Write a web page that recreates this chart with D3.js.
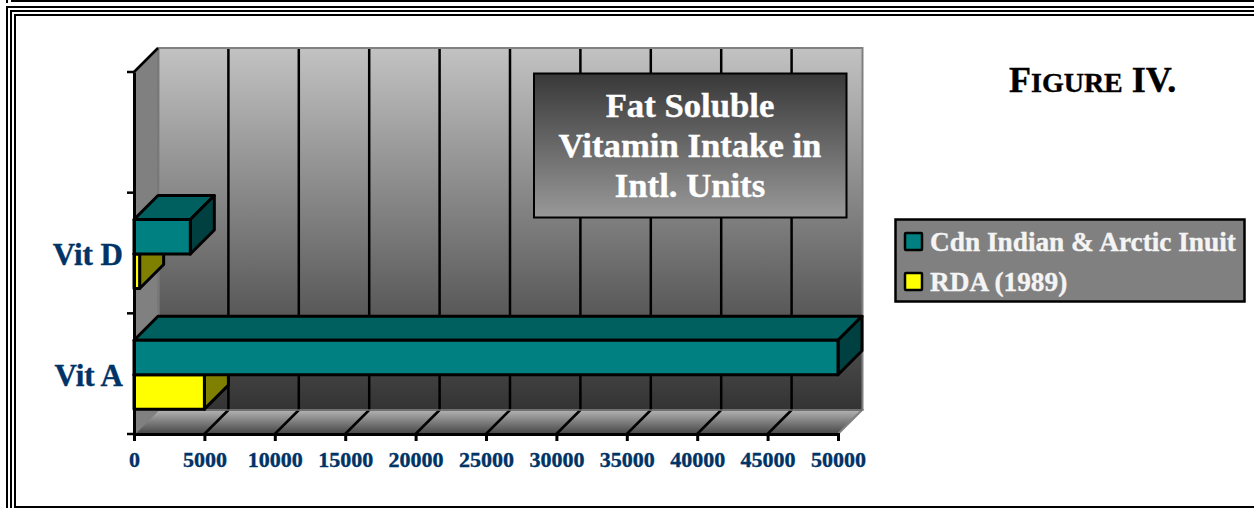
<!DOCTYPE html>
<html>
<head>
<meta charset="utf-8">
<script src="https://cdn.jsdelivr.net/npm/d3@7"></script>
<style>
  body { margin: 0; background: #fff; }
  svg { display: block; }
  text { font-family: "Liberation Serif", "Times New Roman", serif; font-weight: bold; stroke-width: 0.4px; }
</style>
</head>
<body>
<div id="chart"></div>
<script>
// values
var categories = ["Vit A", "Vit D", ""];
var seriesNames = ["Cdn Indian & Arctic Inuit", "RDA (1989)"];
var inuitValues = [50000, 4000, null];
var rdaValues = [5000, 400, null];
var xTicks = [0, 5000, 10000, 15000, 20000, 25000, 30000, 35000, 40000, 45000, 50000];
var titleLines = ["Fat Soluble", "Vitamin Intake in", "Intl. Units"];

var width = 1254, height = 508;
var navy = "#003366";

// front plane of the 3d box and how far the back wall is pushed
var left = 134, right = 838, bottom = 434, top_ = 72;
var depth = 24;

var svg = d3.select("#chart").append("svg")
    .attr("width", width)
    .attr("height", height);

var defs = svg.append("defs");

function addGradient(id, from, to) {
  var g = defs.append("linearGradient")
      .attr("id", id)
      .attr("x1", 0).attr("y1", 0)
      .attr("x2", 0).attr("y2", 1);
  g.append("stop").attr("offset", "0%").attr("stop-color", from);
  g.append("stop").attr("offset", "100%").attr("stop-color", to);
}
addGradient("wallGrad", "#c2c2c2", "#333333");
addGradient("floorGrad", "#b4b4b4", "#464646");
addGradient("titleGrad", "#383838", "#999999");

// page frame
var frame = svg.append("g").attr("fill", "none").attr("stroke", "#000").attr("stroke-width", 2);
frame.append("path").attr("d", "M11,1H" + width);
frame.append("path").attr("d", "M7,0V3");
[7, 11, 15].forEach(function(p) {
  frame.append("path").attr("d", "M" + p + "," + height + "V" + p + "H" + width);
});
frame.append("path").attr("d", "M14,507H" + width);

// scales
var x = d3.scaleLinear()
    .domain([0, 50000])
    .range([left, right]);

var y = d3.scaleBand()
    .domain(categories)
    .range([bottom, top_]);

var ySeries = d3.scaleBand()
    .domain(seriesNames)
    .range([0, y.bandwidth()])
    .paddingInner(0)
    .paddingOuter(0.75)
    .align(0.52);

function pts(list) {
  return list.map(function(p) { return p.join(","); }).join(" ");
}

// walls and floor
svg.append("rect")
    .attr("x", left + depth + 0.5)
    .attr("y", top_ - depth)
    .attr("width", right - left)
    .attr("height", bottom - top_)
    .attr("fill", "url(#wallGrad)")
    .attr("stroke", "#808080")
    .attr("stroke-width", 2);

svg.append("polygon")
    .attr("points", pts([[left, top_], [left + depth, top_ - depth], [left + depth, bottom - depth], [left, bottom]]))
    .attr("fill", "#808080")
    .attr("stroke", "#707070")
    .attr("stroke-width", 1);

svg.append("polygon")
    .attr("points", pts([[left, bottom], [right, bottom], [right + depth, bottom - depth], [left + depth, bottom - depth]]))
    .attr("fill", "url(#floorGrad)")
    .attr("stroke", "#808080")
    .attr("stroke-width", 2);

// gridlines on the wall and the floor
var gridTicks = xTicks.slice(1, -1);
svg.append("g").selectAll("line")
    .data(gridTicks)
    .enter().append("line")
    .attr("x1", function(d) { return x(d) + depth; })
    .attr("x2", function(d) { return x(d) + depth; })
    .attr("y1", top_ - depth + 1)
    .attr("y2", bottom - depth)
    .attr("stroke", "#000")
    .attr("stroke-width", 2.5);

svg.append("g").selectAll("line")
    .data(gridTicks)
    .enter().append("line")
    .attr("x1", function(d) { return x(d); })
    .attr("x2", function(d) { return x(d) + depth; })
    .attr("y1", bottom)
    .attr("y2", bottom - depth)
    .attr("stroke", "#000")
    .attr("stroke-width", 2.5);

// floor back edge, darker above the floor
svg.append("line")
    .attr("x1", left + depth).attr("x2", right + depth)
    .attr("y1", bottom - depth).attr("y2", bottom - depth)
    .attr("stroke", "#6a6a6a").attr("stroke-width", 1.5);

// 3d bars, lower series first so the teal one sits on top of it
var barSeries = [
  {name: seriesNames[1], values: rdaValues, front: "#ffff00", topFace: "#808000", side: "#808000"},
  {name: seriesNames[0], values: inuitValues, front: "#008080", topFace: "#006060", side: "#004040"}
];

barSeries.forEach(function(s) {
  var rows = categories.map(function(c, i) {
    return {cat: c, value: s.values[i]};
  }).filter(function(d) { return d.value != null; });

  var bar = svg.append("g")
      .attr("stroke", "#000")
      .attr("stroke-width", 3)
      .attr("stroke-linejoin", "round")
      .selectAll("g")
      .data(rows)
      .enter().append("g");

  function yTop(d) { return y(d.cat) + ySeries(s.name); }
  function yBot(d) { return yTop(d) + ySeries.bandwidth(); }

  bar.append("polygon")
      .attr("fill", s.topFace)
      .attr("points", function(d) {
        return pts([[x(0), yTop(d)], [x(d.value), yTop(d)], [x(d.value) + depth, yTop(d) - depth], [x(0) + depth, yTop(d) - depth]]);
      });
  bar.append("polygon")
      .attr("fill", s.side)
      .attr("points", function(d) {
        return pts([[x(d.value), yTop(d)], [x(d.value) + depth, yTop(d) - depth], [x(d.value) + depth, yBot(d) - depth], [x(d.value), yBot(d)]]);
      });
  bar.append("rect")
      .attr("fill", s.front)
      .attr("x", x(0))
      .attr("y", yTop)
      .attr("width", function(d) { return x(d.value) - x(0); })
      .attr("height", ySeries.bandwidth());
});

// axes
var xAxis = svg.append("g")
    .attr("transform", "translate(0," + bottom + ")")
    .call(d3.axisBottom(x).tickValues(xTicks).tickFormat(d3.format("d")).tickSize(7).tickPadding(10));
xAxis.selectAll("text").attr("fill", navy).attr("stroke", navy).style("font-size", "22px");
xAxis.selectAll("line").attr("stroke", "#000").attr("stroke-width", 3);
xAxis.select(".domain").attr("stroke", "#000").attr("stroke-width", 3);

var yAxis = svg.append("g")
    .attr("transform", "translate(" + left + ",0)")
    .call(d3.axisLeft(y).tickSize(0).tickPadding(11));
yAxis.selectAll("text").attr("fill", navy).attr("stroke", navy).attr("dy", "0.4em").style("font-size", "31px");
yAxis.select(".domain").attr("stroke", "#000").attr("stroke-width", 3);

// left ticks sit on the category edges, not their centres
var yEdges = categories.map(function(c) { return y(c) + y.bandwidth(); }).concat([y(categories[2])]);
yAxis.append("g").selectAll("line")
    .data(yEdges)
    .enter().append("line")
    .attr("x1", -7).attr("x2", 0)
    .attr("y1", function(d) { return d; })
    .attr("y2", function(d) { return d; })
    .attr("stroke", "#000")
    .attr("stroke-width", 2.5);

svg.append("line")
    .attr("x1", left).attr("x2", left + depth)
    .attr("y1", top_).attr("y2", top_ - depth)
    .attr("stroke", "#000").attr("stroke-width", 2.5);

// title box
svg.append("rect")
    .attr("x", 534).attr("y", 73.5)
    .attr("width", 312.5).attr("height", 144)
    .attr("fill", "url(#titleGrad)")
    .attr("stroke", "#000")
    .attr("stroke-width", 2);

svg.append("g").selectAll("text")
    .data(titleLines)
    .enter().append("text")
    .attr("x", 690)
    .attr("y", function(d, i) { return 117 + i * 40; })
    .attr("text-anchor", "middle")
    .attr("fill", "#fff")
    .attr("stroke", "#fff")
    .style("font-size", "34.7px")
    .text(function(d) { return d; });

// legend
svg.append("rect")
    .attr("x", 895.5).attr("y", 219.5)
    .attr("width", 349).attr("height", 82)
    .attr("fill", "#808080")
    .attr("stroke", "#000")
    .attr("stroke-width", 2.5);

var legendColors = ["#008080", "#ffff00"];
var legendRow = svg.append("g").selectAll("g")
    .data(seriesNames)
    .enter().append("g")
    .attr("transform", function(d, i) { return "translate(905," + (233 + i * 40) + ")"; });
legendRow.append("rect")
    .attr("width", 17).attr("height", 17)
    .attr("rx", 1)
    .attr("fill", function(d, i) { return legendColors[i]; })
    .attr("stroke", "#000")
    .attr("stroke-width", 2.5);
legendRow.append("text")
    .attr("x", 25)
    .attr("y", 18)
    .attr("fill", "#f4f4f4")
    .attr("stroke", "#f4f4f4")
    .style("font-size", "27.3px")
    .text(function(d) { return d; });

// small caps heading
var heading = svg.append("text")
    .attr("x", 1009)
    .attr("y", 92)
    .attr("fill", "#000")
    .attr("stroke", "#000")
    .style("font-size", "36px");
heading.append("tspan").text("F");
heading.append("tspan").style("font-size", "28px").text("IGURE");
heading.append("tspan").text(" IV.");
</script>
</body>
</html>
